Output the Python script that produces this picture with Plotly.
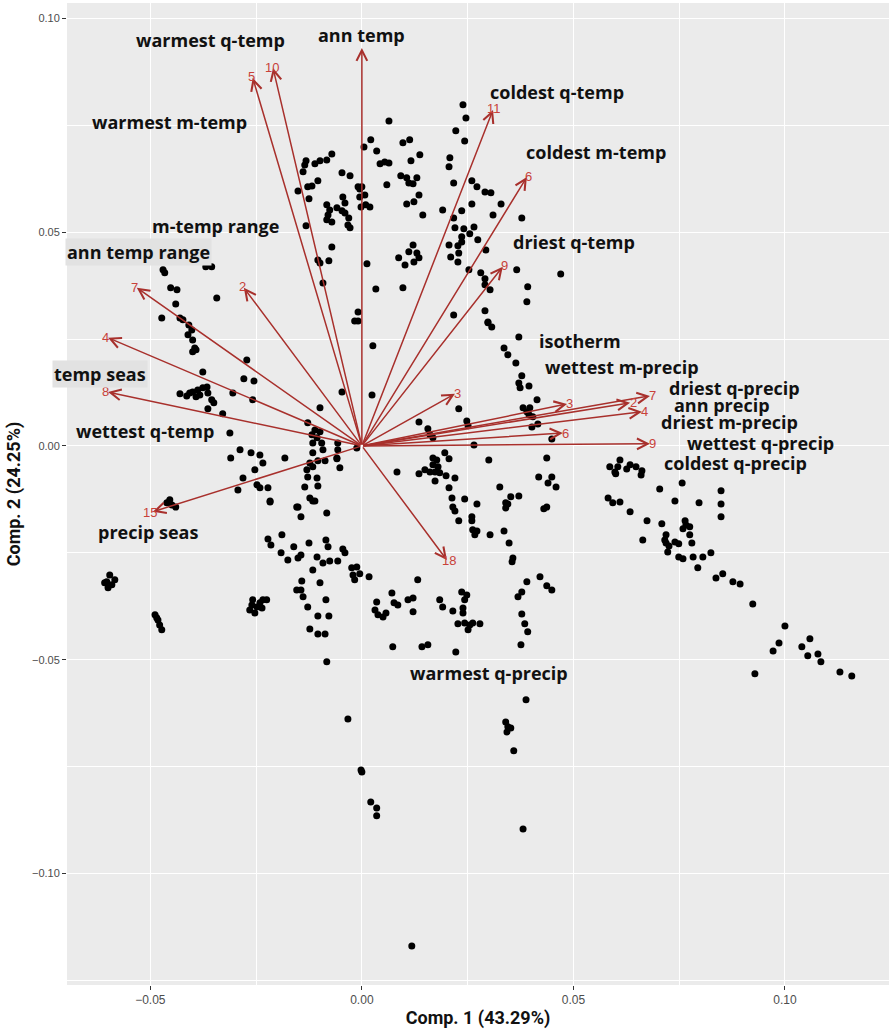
import math
import plotly.graph_objects as go

# ---------------- site scores (PC1, PC2) ----------------
scores_upper = [
    (0.0239, 0.0798), (0.0246, 0.0767), (0.0064, 0.0760), (0.0222, 0.0737), (0.0243, 0.0713),
    (0.0021, 0.0716), (0.0097, 0.0709), (0.0113, 0.0716), (0.0005, 0.0699), (0.0035, 0.0690),
    (0.0137, 0.0681), (0.0208, 0.0674), (-0.0071, 0.0683), (-0.0083, 0.0669), (-0.0099, 0.0667),
    (-0.0111, 0.0660), (-0.0132, 0.0667), (-0.0135, 0.0657), (-0.0139, 0.0641), (0.0043, 0.0660),
    (0.0054, 0.0664), (0.0064, 0.0662), (0.0116, 0.0667), (0.0206, 0.0653), (-0.0047, 0.0639),
    (-0.0028, 0.0632), (0.0092, 0.0632), (0.0106, 0.0627), (0.0130, 0.0627), (0.0111, 0.0615),
    (0.0121, 0.0613), (-0.0104, 0.0620), (-0.0118, 0.0608), (-0.0128, 0.0606), (-0.0151, 0.0596),
    (-0.0009, 0.0606), (-0.0005, 0.0601), (0.0059, 0.0611), (0.0217, 0.0615), (0.0260, 0.0620),
    (0.0272, 0.0606), (0.0291, 0.0594), (0.0305, 0.0592), (0.0135, 0.0587), (0.0106, 0.0566),
    (0.0123, 0.0571), (-0.0125, 0.0578), (-0.0045, 0.0582), (-0.0040, 0.0568), (0.0007, 0.0587),
    (0.0009, 0.0564), (0.0019, 0.0559), (-0.0005, 0.0582), (-0.0002, 0.0559), (-0.0083, 0.0564),
    (-0.0076, 0.0552), (-0.0080, 0.0540), (-0.0083, 0.0529), (-0.0071, 0.0524), (-0.0059, 0.0557),
    (-0.0047, 0.0550), (-0.0040, 0.0545), (-0.0031, 0.0533), (-0.0033, 0.0517), (-0.0028, 0.0510),
    (0.0329, 0.0566), (0.0260, 0.0566), (0.0191, 0.0552), (0.0236, 0.0550), (0.0144, 0.0540),
    (0.0310, 0.0540), (0.0378, 0.0533), (0.0217, 0.0533), (0.0220, 0.0510), (0.0241, 0.0508),
    (0.0265, 0.0512), (0.0255, 0.0496), (0.0236, 0.0489), (0.0236, 0.0477), (0.0227, 0.0468),
    (0.0206, 0.0470), (0.0274, 0.0482), (0.0293, 0.0458), (0.0229, 0.0451), (0.0210, 0.0442),
    (0.0227, 0.0430), (-0.0132, 0.0515), (-0.0071, 0.0465), (0.0121, 0.0470), (0.0111, 0.0454),
    (0.0130, 0.0451), (0.0135, 0.0440), (0.0123, 0.0430), (0.0087, 0.0440), (0.0102, 0.0423),
    (-0.0104, 0.0435), (-0.0078, 0.0433), (-0.0099, 0.0428), (0.0012, 0.0426), (0.0253, 0.0412),
    (0.0366, 0.0412), (0.0281, 0.0405), (0.0291, 0.0391), (0.0291, 0.0377), (0.0303, 0.0365),
    (-0.0092, 0.0381), (0.0033, 0.0367), (0.0097, 0.0370), (0.0291, 0.0316), (0.0298, 0.0290),
    (0.0307, 0.0278), (0.0217, 0.0306), (-0.0009, 0.0313), (-0.0017, 0.0292), (-0.0009, 0.0292),
    (0.0392, 0.0372), (0.0390, 0.0337), (0.0470, 0.0402), (0.0000, 0.0606),
]

scores_left = [
    (-0.0470, 0.0412), (-0.0466, 0.0405), (-0.0369, 0.0419), (-0.0355, 0.0419), (-0.0452, 0.0370),
    (-0.0437, 0.0365), (-0.0343, 0.0346), (-0.0440, 0.0332), (-0.0473, 0.0299), (-0.0430, 0.0299),
    (-0.0423, 0.0295), (-0.0409, 0.0283), (-0.0402, 0.0271), (-0.0411, 0.0260), (-0.0400, 0.0248),
    (-0.0395, 0.0229), (-0.0400, 0.0220), (-0.0392, 0.0225), (-0.0376, 0.0173), (-0.0272, 0.0201),
    (-0.0279, 0.0157), (-0.0255, 0.0152), (-0.0430, 0.0122), (-0.0414, 0.0117), (-0.0407, 0.0124),
    (-0.0400, 0.0126), (-0.0388, 0.0131), (-0.0376, 0.0136), (-0.0366, 0.0138), (-0.0383, 0.0119),
    (-0.0364, 0.0124), (-0.0392, 0.0115), (-0.0355, 0.0108), (-0.0350, 0.0101), (-0.0364, 0.0087),
    (-0.0329, 0.0075), (-0.0305, 0.0124), (-0.0258, 0.0108), (-0.0312, 0.0030), (-0.0047, 0.0126),
    (-0.0099, 0.0089), (-0.0128, 0.0054), (-0.0111, 0.0037), (-0.0099, 0.0033), (-0.0118, 0.0026),
    (-0.0106, 0.0019), (-0.0095, 0.0007), (-0.0092, -0.0009), (-0.0116, 0.0007), (-0.0057, 0.0007),
    (-0.0057, -0.0009), (-0.0059, -0.0028), (-0.0052, -0.0051), (-0.0012, -0.0005), (-0.0288, -0.0009),
    (-0.0310, -0.0028), (-0.0262, -0.0016), (-0.0241, -0.0021), (-0.0234, -0.0040), (-0.0182, -0.0028),
    (-0.0253, -0.0056), (-0.0281, -0.0075), (-0.0293, -0.0103), (-0.0248, -0.0091), (-0.0241, -0.0098),
    (-0.0222, -0.0098), (-0.0116, -0.0016), (-0.0123, -0.0040), (-0.0130, -0.0056), (-0.0116, -0.0049),
    (-0.0104, -0.0035), (-0.0087, -0.0035), (-0.0059, -0.0030), (-0.0128, -0.0073), (-0.0106, -0.0075),
    (-0.0104, -0.0094), (-0.0135, -0.0096), (-0.0123, -0.0122), (-0.0111, -0.0129), (-0.0217, -0.0129),
    (-0.0154, -0.0143), (-0.0454, -0.0126), (-0.0461, -0.0133), (-0.0449, -0.0138), (-0.0440, -0.0143),
]

scores_middle = [
    (0.0026, 0.0234), (0.0024, 0.0119), (0.0298, 0.0288), (0.0371, 0.0255), (0.0336, 0.0229),
    (0.0345, 0.0213), (0.0364, 0.0194), (0.0378, 0.0164), (0.0371, 0.0147), (0.0374, 0.0136),
    (0.0395, 0.0140), (0.0414, 0.0108), (0.0381, 0.0089), (0.0390, 0.0080), (0.0397, 0.0089),
    (0.0395, 0.0073), (0.0404, 0.0068), (0.0416, 0.0051), (0.0402, 0.0044), (0.0449, 0.0016),
    (0.0229, 0.0087), (0.0248, 0.0058), (0.0251, 0.0047), (0.0135, 0.0056), (0.0156, 0.0040),
    (0.0161, 0.0026), (0.0168, 0.0019), (0.0265, 0.0002), (0.0083, -0.0061), (0.0168, -0.0028),
    (0.0177, -0.0033), (0.0196, -0.0016), (0.0206, -0.0030), (0.0168, -0.0044), (0.0180, -0.0049),
    (0.0173, -0.0061), (0.0184, -0.0063), (0.0161, -0.0061), (0.0135, -0.0065), (0.0149, -0.0056),
    (0.0199, -0.0070), (0.0220, -0.0075), (0.0173, -0.0082), (0.0300, -0.0033), (0.0206, -0.0098),
    (0.0213, -0.0122), (0.0215, -0.0143), (0.0220, -0.0152), (0.0243, -0.0124), (0.0272, -0.0136),
    (0.0326, -0.0096), (0.0340, -0.0133), (0.0345, -0.0136), (0.0340, -0.0145), (0.0352, -0.0119),
    (0.0371, -0.0117), (0.0437, -0.0028), (0.0418, -0.0073), (0.0449, -0.0073), (0.0440, -0.0087),
    (0.0459, -0.0096), (0.0437, -0.0143), (0.0430, -0.0147), (0.0229, -0.0175), (0.0260, -0.0166),
    (0.0260, -0.0175), (0.0262, -0.0196), (0.0272, -0.0199), (0.0267, -0.0208), (0.0303, -0.0208),
    (0.0336, -0.0199), (0.0348, -0.0227), (0.0357, -0.0262),
]

scores_right = [
    (0.0586, -0.0049), (0.0598, -0.0061), (0.0610, -0.0033), (0.0605, -0.0049), (0.0626, -0.0054),
    (0.0634, -0.0044), (0.0648, -0.0049), (0.0662, -0.0058), (0.0660, -0.0068), (0.0600, -0.0065),
    (0.0704, -0.0101), (0.0757, -0.0087), (0.0582, -0.0122), (0.0593, -0.0133), (0.0610, -0.0131),
    (0.0740, -0.0129), (0.0797, -0.0133), (0.0849, -0.0105), (0.0849, -0.0136), (0.0849, -0.0166),
    (0.0634, -0.0154), (0.0674, -0.0175), (0.0709, -0.0182), (0.0764, -0.0175), (0.0766, -0.0185),
    (0.0775, -0.0189), (0.0759, -0.0194), (0.0664, -0.0220), (0.0719, -0.0208), (0.0716, -0.0220),
    (0.0719, -0.0227), (0.0726, -0.0234), (0.0740, -0.0225), (0.0749, -0.0229), (0.0775, -0.0208),
    (0.0780, -0.0227), (0.0723, -0.0248), (0.0749, -0.0260), (0.0759, -0.0264), (0.0783, -0.0260),
    (0.0806, -0.0260), (0.0825, -0.0250), (0.0794, -0.0285), (0.0837, -0.0309), (0.0853, -0.0299),
    (0.0877, -0.0318), (0.0894, -0.0323), (0.0924, -0.0370), (0.1000, -0.0421), (0.0986, -0.0461),
    (0.0972, -0.0480), (0.1040, -0.0470), (0.1059, -0.0451), (0.1054, -0.0491), (0.1078, -0.0487),
    (0.1085, -0.0505), (0.0929, -0.0533), (0.1130, -0.0529), (0.1158, -0.0538),
]

scores_lower = [
    (-0.0596, -0.0302), (-0.0603, -0.0318), (-0.0591, -0.0325), (-0.0584, -0.0313), (-0.0600, -0.0332),
    (-0.0608, -0.0320), (-0.0489, -0.0395), (-0.0482, -0.0407), (-0.0478, -0.0419), (-0.0473, -0.0430),
    (-0.0485, -0.0402), (-0.0258, -0.0360), (-0.0248, -0.0377), (-0.0241, -0.0367), (-0.0234, -0.0360),
    (-0.0265, -0.0384), (-0.0253, -0.0391), (-0.0236, -0.0379), (-0.0225, -0.0360), (-0.0260, -0.0372),
    (-0.0217, -0.0131), (-0.0151, -0.0143), (-0.0144, -0.0166), (-0.0116, -0.0129), (-0.0083, -0.0157),
    (-0.0222, -0.0218), (-0.0215, -0.0232), (-0.0189, -0.0208), (-0.0191, -0.0250), (-0.0175, -0.0267),
    (-0.0161, -0.0236), (-0.0151, -0.0262), (-0.0144, -0.0255), (-0.0125, -0.0227), (-0.0085, -0.0220),
    (-0.0080, -0.0236), (-0.0106, -0.0260), (-0.0092, -0.0274), (-0.0076, -0.0269), (-0.0057, -0.0269),
    (-0.0045, -0.0241), (-0.0040, -0.0250), (-0.0024, -0.0285), (-0.0012, -0.0283), (-0.0021, -0.0302),
    (-0.0005, -0.0299), (-0.0017, -0.0313), (0.0017, -0.0306), (-0.0116, -0.0290), (-0.0142, -0.0316),
    (-0.0099, -0.0320), (-0.0154, -0.0337), (-0.0144, -0.0337), (-0.0139, -0.0353), (-0.0128, -0.0377),
    (-0.0085, -0.0360), (-0.0104, -0.0398), (-0.0078, -0.0398), (-0.0123, -0.0428), (-0.0104, -0.0440),
    (-0.0087, -0.0440), (-0.0083, -0.0505), (0.0035, -0.0365), (0.0031, -0.0384), (0.0038, -0.0395),
    (0.0050, -0.0400), (0.0057, -0.0391), (0.0071, -0.0344), (0.0076, -0.0367), (0.0085, -0.0372),
    (0.0109, -0.0360), (0.0121, -0.0356), (0.0121, -0.0388), (0.0132, -0.0313), (0.0073, -0.0470),
    (0.0142, -0.0470), (0.0156, -0.0465), (0.0184, -0.0360), (0.0191, -0.0377), (0.0215, -0.0386),
    (0.0236, -0.0342), (0.0248, -0.0349), (0.0243, -0.0360), (0.0239, -0.0379), (0.0239, -0.0391),
    (0.0227, -0.0416), (0.0243, -0.0414), (0.0255, -0.0419), (0.0262, -0.0414), (0.0279, -0.0416),
    (0.0251, -0.0430), (0.0222, -0.0482), (0.0355, -0.0271), (0.0390, -0.0318), (0.0421, -0.0306),
    (0.0437, -0.0327), (0.0449, -0.0337), (0.0378, -0.0342), (0.0369, -0.0353), (0.0378, -0.0393),
    (0.0385, -0.0416), (0.0392, -0.0435), (0.0376, -0.0465), (-0.0033, -0.0639), (0.0000, -0.0763),
    (-0.0002, -0.0758), (0.0021, -0.0833), (0.0035, -0.0847), (0.0035, -0.0865), (0.0118, -0.1170),
    (0.0388, -0.0594), (0.0340, -0.0646), (0.0345, -0.0657), (0.0352, -0.0660), (0.0343, -0.0669),
    (0.0359, -0.0713), (0.0381, -0.0896),
]

# ---------------- variable loadings (arrows) ----------------
var_numbers = ["", "2", "3", "4", "5", "6", "7", "8", "9", "10",
               "11", "2", "3", "4", "15", "6", "7", "18", "9"]
load_pc1 = [0.0000, -0.0279, 0.0220, -0.0600, -0.0258, 0.0390, -0.0532, -0.0600, 0.0333, -0.0210,
            0.0310, 0.0634, 0.0485, 0.0662, -0.0494, 0.0475, 0.0681, 0.0201, 0.0681]
load_pc2 = [0.0931, 0.0370, 0.0122, 0.0253, 0.0861, 0.0629, 0.0370, 0.0126, 0.0419, 0.0884,
            0.0786, 0.0101, 0.0098, 0.0080, -0.0154, 0.0030, 0.0117, -0.0267, 0.0005]

# ---------------- variable names (text labels) ----------------
var_names = ["ann temp", "m-temp range", "isotherm", "temp seas", "warmest m-temp",
             "coldest m-temp", "ann temp range", "wettest q-temp", "driest q-temp",
             "warmest q-temp", "coldest q-temp", "ann precip", "wettest m-precip",
             "driest m-precip", "precip seas", "wettest q-precip", "driest q-precip",
             "warmest q-precip", "coldest q-precip"]
name_pc1 = [0.0000, -0.0345, 0.0515, -0.0619, -0.0454, 0.0553, -0.0528, -0.0513, 0.0501,
            -0.0357, 0.0461, 0.0851, 0.0615, 0.0868, -0.0506, 0.0942, 0.0881, 0.0301, 0.0883]
name_pc2 = [0.0961, 0.0515, 0.0246, 0.0168, 0.0758, 0.0688, 0.0454, 0.0035, 0.0477,
            0.0950, 0.0828, 0.0096, 0.0185, 0.0056, -0.0201, 0.0007, 0.0136, -0.0531, -0.0040]
boxed_names = ["ann temp range", "temp seas"]

x_title = "Comp. 1 (43.29%)"
y_title = "Comp. 2 (24.25%)"
x_ticks = [-0.05, 0.00, 0.05, 0.10]
y_ticks = [-0.10, -0.05, 0.00, 0.05, 0.10]

# ---------------- figure ----------------
all_scores = scores_upper + scores_left + scores_middle + scores_right + scores_lower
pc1 = [p[0] for p in all_scores]
pc2 = [p[1] for p in all_scores]

ARROW = "#A8302C"
NUM = "#C8413A"

fig = go.Figure()
fig.add_trace(go.Scatter(x=pc1, y=pc2, mode="markers",
                         marker=dict(color="black", size=7, line=dict(width=0)),
                         hoverinfo="skip", showlegend=False))

anns = []
for i in range(len(load_pc1)):
    anns.append(dict(x=load_pc1[i], y=load_pc2[i], xref="x", yref="y",
                     ax=0, ay=0, axref="x", ayref="y", text="",
                     showarrow=True, arrowhead=5, arrowsize=1.4, arrowwidth=1.5,
                     arrowcolor=ARROW, standoff=0, startstandoff=0))
for i in range(len(load_pc1)):
    if not var_numbers[i]:
        continue
    vx = load_pc1[i] * 4230
    vy = load_pc2[i] * 4275
    n = math.hypot(vx, vy)
    anns.append(dict(x=load_pc1[i], y=load_pc2[i], xref="x", yref="y",
                     text=var_numbers[i], showarrow=False,
                     xshift=3 * vx / n, yshift=1 * vy / n,
                     font=dict(family="Liberation Sans, Arial, sans-serif", size=13, color=NUM)))
for i in range(len(var_names)):
    boxed = var_names[i] in boxed_names
    anns.append(dict(x=name_pc1[i], y=name_pc2[i], xref="x", yref="y",
                     text="<b>" + var_names[i] + "</b>", showarrow=False,
                     bgcolor="#E2E2E2" if boxed else None, borderpad=1,
                     font=dict(family="Open Sans, DejaVu Sans, sans-serif", size=18, color="#111111")))

fig.update_layout(
    width=894, height=1034,
    margin=dict(l=67, r=5, t=3, b=49),
    paper_bgcolor="white", plot_bgcolor="#EBEBEB",
    showlegend=False,
    annotations=anns,
    xaxis=dict(range=[-0.0697, 0.1246], tickvals=x_ticks,
               ticktext=["\u22120.05", "0.00", "0.05", "0.10"],
               showgrid=True, gridcolor="white", gridwidth=1.3,
               minor=dict(dtick=0.025, tick0=0, showgrid=True, gridcolor="white", gridwidth=0.6),
               zeroline=False, showline=False,
               ticks="outside", ticklen=4, tickcolor="#333333", tickwidth=1,
               tickfont=dict(family="Liberation Sans Narrow, Liberation Sans, Arial", size=12, color="#4D4D4D"),
               title=dict(text="<b>" + x_title + "</b>", standoff=4,
                          font=dict(family="Liberation Sans Narrow, Roboto, sans-serif", size=18, color="#111111")),
               automargin=False),
    yaxis=dict(range=[-0.1261, 0.1036], tickvals=y_ticks,
               ticktext=["\u22120.10", "\u22120.05", "0.00", "0.05", "0.10"],
               showgrid=True, gridcolor="white", gridwidth=1.3,
               minor=dict(dtick=0.025, tick0=0, showgrid=True, gridcolor="white", gridwidth=0.6),
               zeroline=False, showline=False,
               ticks="outside", ticklen=4, tickcolor="#333333", tickwidth=1,
               tickfont=dict(family="Liberation Sans, Arial", size=11, color="#4D4D4D"),
               title=dict(text="<b>" + y_title + "</b>", standoff=6,
                          font=dict(family="Liberation Sans Narrow, Roboto, sans-serif", size=18, color="#111111")),
               automargin=False),
)

fig.write_html("out.html", config={"displayModeBar": False},
               post_script="document.body.style.margin='0px';document.body.style.overflow='hidden';")
